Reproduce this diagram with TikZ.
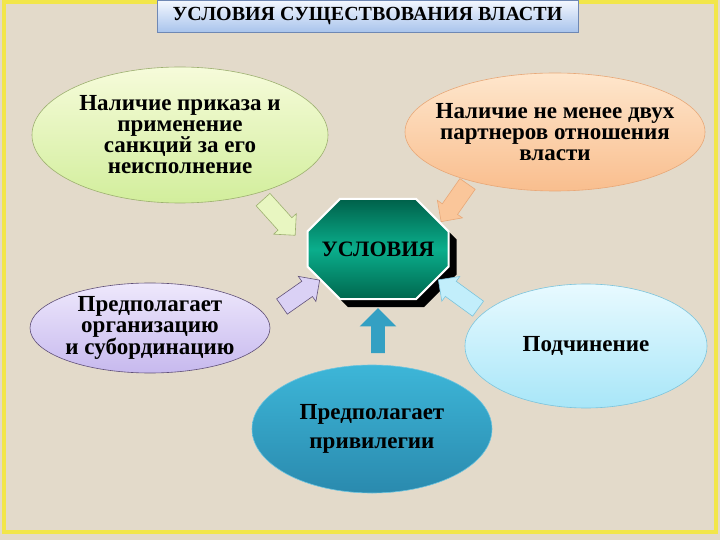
\documentclass[tikz,border=0pt]{standalone}
\usepackage{fontspec}
\setmainfont{Liberation Serif}
\usetikzlibrary{shapes.geometric, shapes.misc, shapes.arrows, shadows, positioning, calc}

\definecolor{paper}{HTML}{E3DACA}
\definecolor{frameyellow}{HTML}{F2E64A}
\definecolor{titletop}{HTML}{F4F8FF}
\definecolor{titlebot}{HTML}{A9C4EC}
\definecolor{titleline}{HTML}{6F88B4}
\definecolor{condtop}{HTML}{00614A}
\definecolor{condmid}{HTML}{0AAE8C}
\definecolor{condbot}{HTML}{00674E}
\definecolor{greentop}{HTML}{F6FBDA}
\definecolor{greenbot}{HTML}{D2EE9C}
\definecolor{greenline}{HTML}{9DB070}
\definecolor{orangetop}{HTML}{FEE6CC}
\definecolor{orangebot}{HTML}{F9BE8E}
\definecolor{orangeline}{HTML}{E8A878}
\definecolor{purpletop}{HTML}{EEE8FC}
\definecolor{purplebot}{HTML}{C7B9EE}
\definecolor{purpleline}{HTML}{605078}
\definecolor{skytop}{HTML}{E8FAFF}
\definecolor{skybot}{HTML}{A8E6F8}
\definecolor{skyline}{HTML}{7CC4DC}
\definecolor{bluetop}{HTML}{3DB6D8}
\definecolor{bluebot}{HTML}{2A8AAE}
\definecolor{blueline}{HTML}{6CC4E0}

\tikzset{
  bubble/.style={ellipse, draw, line width=0.6pt, align=center,
    inner xsep=-40pt, inner ysep=-12pt,
    font=\fontsize{23}{21}\selectfont\bfseries},
  blockarrow/.style={single arrow, draw, line width=0.6pt, minimum height=#1,
    inner xsep=0pt, inner ysep=9pt, single arrow head extend=6pt,
    single arrow head indent=0pt},
}

\begin{document}
\begin{tikzpicture}[x=1pt, y=-1pt]

  \useasboundingbox (0,0) rectangle (720,540);

  % background and frame
  \fill[paper] (0,0) rectangle (720,540);
  \draw[frameyellow, line width=4pt] (4,2) rectangle (716,532);

  % title
  \node[draw=titleline, line width=0.8pt, top color=titletop, bottom color=titlebot,
        minimum width=421pt, minimum height=32pt, inner sep=0pt,
        font=\fontsize{20}{20}\selectfont\bfseries]
    (title) at (367.5,16) {УСЛОВИЯ СУЩЕСТВОВАНИЯ ВЛАСТИ};

  % centre
  \node[chamfered rectangle, chamfered rectangle xsep=30pt, chamfered rectangle ysep=25pt,
        minimum width=141pt, minimum height=100pt, inner sep=0pt,
        draw=white, line width=2pt,
        top color=condtop, bottom color=condbot, middle color=condmid,
        drop shadow={shadow xshift=8pt, shadow yshift=-8pt, fill=black, opacity=1},
        font=\fontsize{22}{22}\selectfont\bfseries]
    (cond) at (378,249) {УСЛОВИЯ};

  % order and sanctions
  \node[bubble, draw=greenline, top color=greentop, bottom color=greenbot,
        minimum width=296pt, minimum height=136pt]
    (order) at (180,135) {Наличие приказа и\\применение\\санкций за его\\неисполнение};

  % two partners
  \node[bubble, draw=orangeline, top color=orangetop, bottom color=orangebot,
        minimum width=300pt, minimum height=118pt]
    (partners) at (555,132) {Наличие не менее двух\\партнеров отношения\\власти};

  % organisation
  \node[bubble, draw=purpleline, top color=purpletop, bottom color=purplebot,
        minimum width=240pt, minimum height=90pt]
    (organ) at (150,328) {Предполагает\\организацию\\и субординацию};

  % subordination
  \node[bubble, draw=skyline, top color=skytop, bottom color=skybot,
        minimum width=242pt, minimum height=124pt]
    (subord) at (586,346) {Подчинение};

  % privileges
  \node[bubble, draw=blueline, top color=bluetop, bottom color=bluebot,
        minimum width=240pt, minimum height=128pt]
    (privil) at (372,429) {Предполагает\\[8pt]привилегии};

  % arrows to centre
  \node[blockarrow=48pt, draw=greenline, fill=greentop!60!greenbot, rotate=-48]
    (a1) at (276,214) {};
  \node[blockarrow=46pt, draw=orangeline, fill=orangebot!80!orangetop, rotate=-125]
    (a2) at (457,199) {};
  \node[blockarrow=46pt, draw=purpleline, fill=purpletop!50!purplebot, rotate=35]
    (a3) at (297,296) {};
  \node[blockarrow=49pt, draw=skyline, fill=skytop!40!skybot, rotate=144]
    (a4) at (462,297) {};
  \node[blockarrow=45pt, draw=none, fill=bluetop!50!bluebot, inner ysep=6.5pt,
        single arrow head extend=11.5pt, rotate=90]
    (a5) at (378,334) {};

\end{tikzpicture}
\end{document}
